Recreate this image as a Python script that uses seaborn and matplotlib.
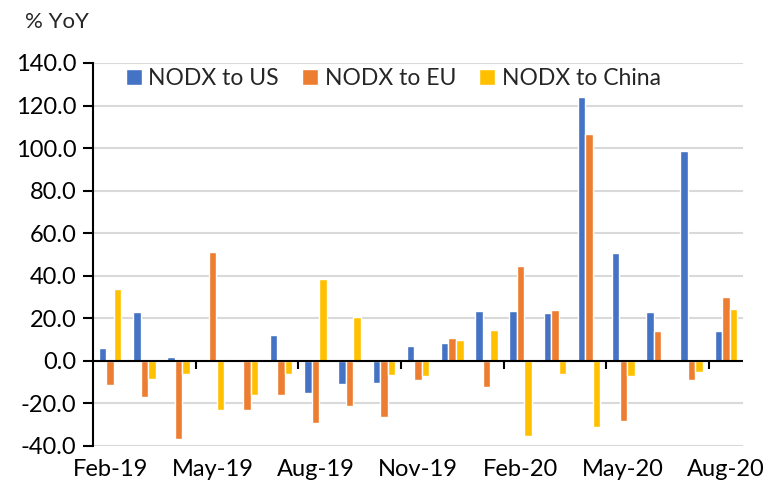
import matplotlib
matplotlib.use("Agg")
import matplotlib.pyplot as plt
import seaborn as sns
import pandas as pd
import numpy as np

months = ["Feb-19", "Mar-19", "Apr-19", "May-19", "Jun-19", "Jul-19", "Aug-19",
          "Sep-19", "Oct-19", "Nov-19", "Dec-19", "Jan-20", "Feb-20", "Mar-20",
          "Apr-20", "May-20", "Jun-20", "Jul-20", "Aug-20"]
nodx_us = [6.2, 22.9, 1.7, 0.0, 1.1, 12.1, -14.9, -11.0, -10.5, 7.2, 8.5, 23.5,
           23.5, 22.4, 124.2, 50.6, 23.2, 98.7, 14.1]
nodx_eu = [-11.3, -16.8, -36.8, 51.2, -23.3, -15.8, -29.3, -21.1, -26.3, -8.9,
           10.8, -12.5, 44.8, 24.0, 106.8, -28.3, 14.1, -8.9, 30.1]
nodx_cn = [33.8, -8.6, -6.0, -23.3, -15.8, -6.0, 38.5, 20.7, -6.6, -6.9, 9.7,
           14.4, -35.5, -6.3, -31.3, -6.9, 0.5, -5.3, 24.4]
series_names = ["NODX to US", "NODX to EU", "NODX to China"]
colors = ["#4472C4", "#ED7D31", "#FFC000"]
yticks = [-40, -20, 0, 20, 40, 60, 80, 100, 120, 140]

df = pd.DataFrame({
    "month": months * 3,
    "series": sum([[s] * len(months) for s in series_names], []),
    "value": nodx_us + nodx_eu + nodx_cn,
})

sns.set_theme(style="white")
plt.rcParams["font.family"] = ["Lato", "DejaVu Sans"]

fig = plt.figure(figsize=(7.68, 4.94), dpi=100)
ax = fig.add_axes([93 / 768, 1 - 446 / 494, 650 / 768, (446 - 63) / 494])

sns.barplot(data=df, x="month", y="value", hue="series", order=months,
            hue_order=series_names, palette=colors, width=0.66, ax=ax,
            saturation=1, errorbar=None, zorder=3)

ax.set_xlim(-0.5, len(months) - 0.5)
ax.set_ylim(-40, 140)
ax.set_yticks(yticks)
ax.set_yticklabels([f"{v:.1f}" for v in yticks], fontsize=17, color="black")
ax.yaxis.grid(True, color="#D9D9D9", linewidth=1.5, zorder=0)
ax.set_axisbelow(True)

label_idx = list(range(0, len(months), 3))
ax.set_xticks(label_idx)
ax.set_xticklabels([months[i] for i in label_idx], fontsize=17, color="black")
ax.tick_params(axis="x", length=0, pad=9)
ax.tick_params(axis="y", left=True, length=7, width=1.5, color="black", pad=5)
ax.set_xlabel("")
ax.set_ylabel("")

for s in ["top", "right", "bottom"]:
    ax.spines[s].set_visible(False)
ax.spines["left"].set_color("black")
ax.spines["left"].set_linewidth(1.5)

ax.axhline(0, color="black", linewidth=1.5, zorder=4)
boundaries = np.arange(2.5, len(months) - 1, 3)
ax.vlines(boundaries, -4, 0, color="black", linewidth=1.5, zorder=4)

leg = ax.legend(loc="upper center", bbox_to_anchor=(0.462, 0.995), ncol=3,
                frameon=True, fontsize=16.5, handlelength=0.7, handleheight=0.7,
                handletextpad=0.3, columnspacing=1.0, borderaxespad=0.0,
                borderpad=0.15)
leg.get_frame().set_facecolor("white")
leg.get_frame().set_edgecolor("white")
leg.get_frame().set_alpha(1)
leg.set_zorder(2.5)

fig.text(25 / 768, 1 - 22 / 494, "% YoY", fontsize=16, va="center", ha="left")

fig.savefig("out.png", dpi=100)
